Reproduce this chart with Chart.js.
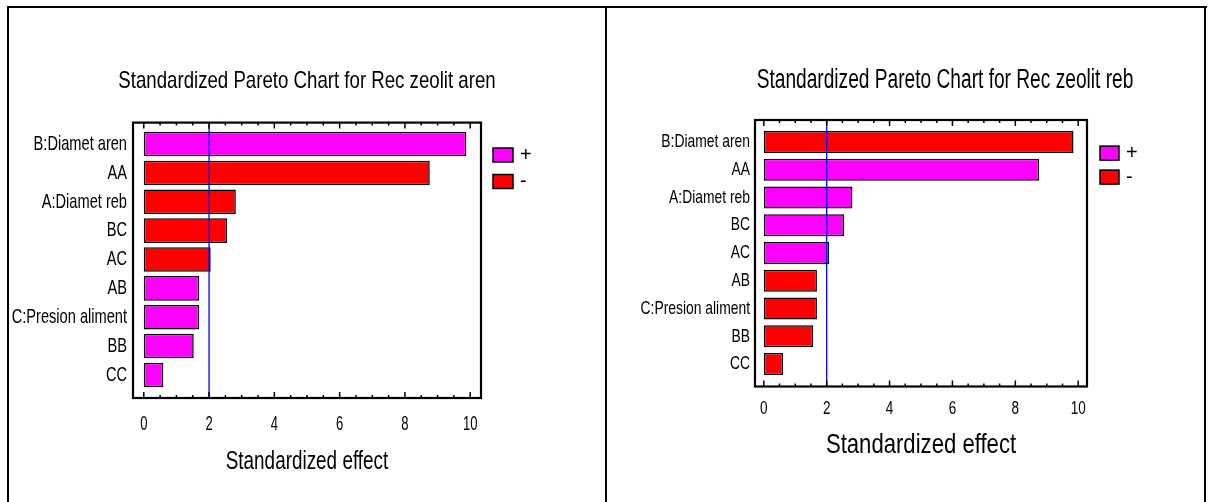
<!DOCTYPE html>
<html>
<head>
<meta charset="utf-8">
<script src="https://cdn.jsdelivr.net/npm/chart.js@4.4.0/dist/chart.umd.min.js"></script>
<style>
  html, body { margin: 0; padding: 0; background: #fff; }
  body { width: 1213px; height: 502px; position: relative; overflow: hidden; }
  .rule { position: absolute; background: #000; }
  .panel { position: absolute; }
</style>
</head>
<body>
<div class="rule" style="left:7px;top:6px;width:1200px;height:2px"></div>
<div class="rule" style="left:7px;top:6px;width:2px;height:496px"></div>
<div class="rule" style="left:605px;top:6px;width:2px;height:496px"></div>
<div class="rule" style="left:1204px;top:6px;width:2px;height:496px"></div>
<div class="panel" style="left:10px;top:9px;width:594px;height:493px"><canvas id="chartAren"></canvas></div>
<div class="panel" style="left:608px;top:9px;width:595px;height:493px"><canvas id="chartReb"></canvas></div>

<script>
// Factors of the design, in Pareto order (largest standardized effect first)
const factors = ['B:Diamet aren', 'AA', 'A:Diamet reb', 'BC', 'AC', 'AB', 'C:Presion aliment', 'BB', 'CC'];

// Response "Rec zeolit aren"
const effectsAren = [9.88, 8.76, 2.82, 2.55, 2.05, 1.70, 1.70, 1.53, 0.60];
const signsAren   = ['+', '-', '-', '-', '-', '+', '+', '+', '+'];

// Response "Rec zeolit reb"
const effectsReb = [9.85, 8.76, 2.82, 2.55, 2.08, 1.69, 1.69, 1.57, 0.61];
const signsReb   = ['-', '+', '+', '+', '+', '-', '-', '-', '-'];

// Axis and significance line
const effectTicks = [0, 2, 4, 6, 8, 10];
const criticalEffect = 2.0;
const signLabels = ['+', '-'];

const FONT = "'Liberation Sans', Arial, sans-serif";
const MAGENTA = '#ff00ff';
const RED = '#ff0000';

// Condensed text: the face is squeezed horizontally around its anchor point
function narrowText(ctx, text, x, y, size, squeeze, align) {
  ctx.save();
  ctx.font = size + 'px ' + FONT;
  ctx.textAlign = align;
  ctx.textBaseline = 'middle';
  ctx.fillStyle = '#000';
  ctx.translate(x, y);
  ctx.scale(squeeze, 1);
  ctx.fillText(text, 0, 0);
  ctx.restore();
}

// Boxed plot frame with inward ticks on top and bottom plus the critical-value line
const paretoFrame = {
  id: 'paretoFrame',
  afterDatasetsDraw(chart, args, o) {
    const { ctx, chartArea: a, scales: { x } } = chart;
    const top = a.top - o.extTop;
    const bottom = a.bottom + o.extBottom;
    ctx.save();
    const rx = x.getPixelForValue(o.reference);
    ctx.strokeStyle = '#0000ff';
    ctx.lineWidth = 1.3;
    ctx.beginPath();
    ctx.moveTo(rx, top);
    ctx.lineTo(rx, bottom);
    ctx.stroke();

    ctx.strokeStyle = '#000';
    ctx.lineWidth = 1.5;
    const first = effectTicks[0], last = effectTicks[effectTicks.length - 1];
    const n = Math.round((last - first) / o.minorStep);
    for (let i = 0; i <= n; i++) {
      const v = first + i * o.minorStep;
      const px = x.getPixelForValue(v);
      const len = effectTicks.includes(v) ? 6 : 3;
      ctx.beginPath();
      ctx.moveTo(px, bottom);
      ctx.lineTo(px, bottom - len);
      ctx.moveTo(px, top);
      ctx.lineTo(px, top + len);
      ctx.stroke();
    }

    ctx.lineWidth = 2.2;
    ctx.strokeRect(a.left, top, a.right - a.left, bottom - top);
    ctx.restore();
  }
};

// Titles, axis labels and the sign legend, set in a condensed face
const paretoText = {
  id: 'paretoText',
  afterDraw(chart, args, o) {
    const { ctx, chartArea: a, scales: { x, y } } = chart;

    narrowText(ctx, o.title, o.titleX, o.titleY, o.titleSize, o.titleSqueeze, 'center');

    chart.data.labels.forEach((lab, i) => {
      narrowText(ctx, lab, a.left - o.labelPad, y.getPixelForTick(i), o.labelSize, o.labelSqueeze, 'right');
    });

    x.ticks.forEach(t => {
      const txt = t.label != null ? String(t.label) : String(t.value);
      narrowText(ctx, txt, x.getPixelForValue(t.value), a.bottom + o.tickDy, o.tickSize, o.tickSqueeze, 'center');
    });

    narrowText(ctx, o.axisTitle, (a.left + a.right) / 2, o.axisTitleY, o.axisTitleSize, o.axisTitleSqueeze, 'center');

    chart.data.datasets.forEach((ds, i) => {
      const bx = a.right + o.legendDx;
      const by = a.top + o.legendDy + i * o.legendPitch;
      ctx.save();
      ctx.fillStyle = ds.backgroundColor;
      ctx.fillRect(bx, by, o.boxW, o.boxH);
      ctx.strokeStyle = '#000';
      ctx.lineWidth = 1.5;
      ctx.strokeRect(bx, by, o.boxW, o.boxH);
      ctx.restore();
      narrowText(ctx, ds.label, bx + o.boxW + o.textGap, by + o.boxH / 2, o.legendSize, 1, 'left');
    });
  }
};

function makeChart(id, title, effects, signs, L) {
  const colors = { '+': MAGENTA, '-': RED };
  const datasets = signLabels.map(s => ({
    label: s,
    data: effects.map((v, i) => (signs[i] === s ? v : null)),
    backgroundColor: colors[s],
    borderColor: '#000',
    borderWidth: 1.5,
    borderSkipped: false,
    grouped: false,
    categoryPercentage: 1,
    barPercentage: L.barPct
  }));

  return new Chart(document.getElementById(id), {
    type: 'bar',
    data: { labels: factors, datasets },
    plugins: [paretoFrame, paretoText],
    options: {
      indexAxis: 'y',
      responsive: true,
      maintainAspectRatio: false,
      animation: false,
      devicePixelRatio: 1,
      layout: { padding: { left: 0, right: L.padRight, top: L.padTop, bottom: 0 } },
      plugins: {
        legend: { display: false },
        tooltip: { enabled: false },
        paretoFrame: { extTop: L.extTop, extBottom: L.extBottom, reference: criticalEffect, minorStep: 0.5 },
        paretoText: {
          title, titleX: L.titleX, titleY: L.titleY, titleSize: L.titleSize, titleSqueeze: L.titleSqueeze,
          labelPad: L.labelPad, labelSize: L.labelSize, labelSqueeze: L.labelSqueeze,
          tickDy: L.tickDy, tickSize: L.tickSize, tickSqueeze: L.tickSqueeze,
          axisTitle: 'Standardized effect', axisTitleY: L.axisTitleY,
          axisTitleSize: L.axisTitleSize, axisTitleSqueeze: L.axisTitleSqueeze,
          legendSize: L.legendSize, legendDx: L.legendDx, legendDy: L.legendDy,
          legendPitch: L.legendPitch, boxW: L.boxW, boxH: L.boxH, textGap: L.textGap
        }
      },
      scales: {
        x: {
          type: 'linear',
          position: 'bottom',
          min: L.xMin,
          max: L.xMax,
          grid: { display: false, drawTicks: false },
          border: { display: false },
          afterBuildTicks: s => { s.ticks = effectTicks.map(v => ({ value: v })); },
          afterFit: s => { s.height = L.xAxisHeight; },
          ticks: { display: false }
        },
        y: {
          type: 'category',
          grid: { display: false, drawTicks: false },
          border: { display: false },
          afterFit: s => { s.width = L.yAxisWidth; },
          ticks: { display: false }
        }
      }
    }
  });
}

makeChart('chartAren', 'Standardized Pareto Chart for Rec zeolit aren', effectsAren, signsAren, {
  barPct: 0.85, padRight: 123, padTop: 120.6, xAxisHeight: 112.6, yAxisWidth: 123,
  extTop: 7, extBottom: 8.6, xMin: -0.33, xMax: 10.33,
  titleX: 297, titleY: 72, titleSize: 24, titleSqueeze: 0.777,
  labelPad: 6, labelSize: 21, labelSqueeze: 0.696,
  tickDy: 34.6, tickSize: 20, tickSqueeze: 0.65,
  axisTitleY: 453, axisTitleSize: 26, axisTitleSqueeze: 0.727,
  legendSize: 20, legendDx: 12, legendDy: 18.4, legendPitch: 26.5, boxW: 20, boxH: 14, textGap: 7
});

makeChart('chartReb', 'Standardized Pareto Chart for Rec zeolit reb', effectsReb, signsReb, {
  barPct: 0.8, padRight: 116, padTop: 119.1, xAxisHeight: 124.1, yAxisWidth: 147,
  extTop: 8.1, extBottom: 8.6, xMin: -0.28, xMax: 10.28,
  titleX: 337, titleY: 72, titleSize: 27, titleSqueeze: 0.709,
  labelPad: 5, labelSize: 19, labelSqueeze: 0.73,
  tickDy: 31.1, tickSize: 18, tickSqueeze: 0.75,
  axisTitleY: 436, axisTitleSize: 28, axisTitleSqueeze: 0.79,
  legendSize: 20, legendDx: 13, legendDy: 18, legendPitch: 24, boxW: 19, boxH: 14, textGap: 7
});
</script>
</body>
</html>
